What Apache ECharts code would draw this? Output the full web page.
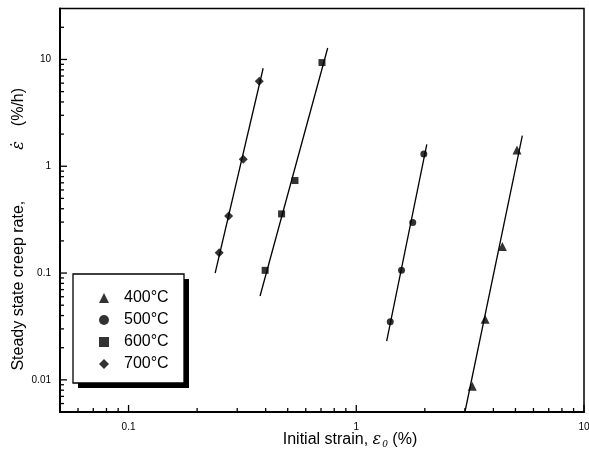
<!DOCTYPE html>
<html>
<head>
<meta charset="utf-8">
<script src="https://cdn.jsdelivr.net/npm/echarts@6/dist/echarts.min.js"></script>
<style>
  html, body { margin: 0; padding: 0; background: #fff; }
  #chart { width: 589px; height: 457px; }
</style>
</head>
<body>
<div id="chart"></div>
<script>
// Steady state creep rate against initial strain, one set per test temperature
const temps = ['400°C', '500°C', '600°C', '700°C'];
const symbols = ['triangle', 'circle', 'rect', 'diamond'];

// measured points: initial strain (%) and creep rate (%/h)
const strain400 = [3.23, 3.68, 4.38, 5.08];
const rate400   = [0.0087, 0.037, 0.177, 1.42];
const strain500 = [1.41, 1.58, 1.77, 1.98];
const rate500   = [0.035, 0.106, 0.297, 1.30];
const strain600 = [0.398, 0.470, 0.538, 0.707];
const rate600   = [0.106, 0.358, 0.735, 9.35];
const strain700 = [0.250, 0.275, 0.319, 0.375];
const rate700   = [0.155, 0.343, 1.16, 6.25];

// fitted power-law lines, [start, end] as [strain, rate]
const fit400 = [[3.00, 0.005], [5.36, 1.94]];
const fit500 = [[1.36, 0.023], [2.04, 1.60]];
const fit600 = [[0.378, 0.061], [0.749, 12.8]];
const fit700 = [[0.240, 0.100], [0.390, 8.27]];

// axis ranges and log tick positions
const xMin = 0.05, xMax = 10;
const yMin = 0.005, yMax = 30;
const xMajorTicks = [0.1, 1, 10];
const xMinorTicks = [0.06, 0.07, 0.08, 0.09, 0.2, 0.3, 0.4, 0.5, 0.6, 0.7, 0.8, 0.9,
                     2, 3, 4, 5, 6, 7, 8, 9];
const yMajorTicks = [0.01, 0.1, 1, 10];
const yMinorTicks = [0.006, 0.007, 0.008, 0.009, 0.02, 0.03, 0.04, 0.05, 0.06, 0.07, 0.08, 0.09,
                     0.2, 0.3, 0.4, 0.5, 0.6, 0.7, 0.8, 0.9, 2, 3, 4, 5, 6, 7, 8, 9, 20];

const FONT = 'Liberation Sans, Arial, Helvetica, sans-serif';
const SERIF = 'DejaVu Serif, Liberation Serif, serif';

const pointSets = [
  [strain400, rate400, 9],
  [strain500, rate500, 7],
  [strain600, rate600, 7],
  [strain700, rate700, 9]
];
const fits = [fit400, fit500, fit600, fit700];

function decadeLabel(v) {
  const l = Math.log10(v);
  return Math.abs(l - Math.round(l)) < 1e-6 ? String(+v.toPrecision(3)) : '';
}

const series = [];
temps.forEach((t, i) => {
  const [xs, ys, size] = pointSets[i];
  series.push({
    name: t,
    type: 'scatter',
    symbol: symbols[i],
    symbolSize: size,
    itemStyle: { color: '#000' },
    z: 4,
    data: xs.map((x, k) => [x, ys[k]])
  });
});
fits.forEach(f => {
  series.push({
    type: 'line',
    showSymbol: false,
    symbol: 'none',
    silent: true,
    lineStyle: { color: '#000', width: 1.3 },
    z: 3,
    data: f
  });
});

const chart = echarts.init(document.getElementById('chart'), null, { renderer: 'canvas' });
chart.setOption({
  animation: false,
  backgroundColor: '#fff',
  grid: {
    left: 60, right: 5, top: 8.5, bottom: 45,
    show: true, borderColor: '#000', borderWidth: 1.5,
    containLabel: false, outerBoundsMode: 'none'
  },
  legend: {
    data: temps,
    orient: 'vertical',
    left: 99, top: 290,
    padding: 0,
    itemWidth: 10, itemHeight: 10, itemGap: 6,
    textStyle: { fontSize: 16, color: '#000', fontFamily: FONT, lineHeight: 16, padding: [0, 0, 0, 10] }
  },
  xAxis: {
    type: 'log', logBase: 10, min: xMin, max: xMax,
    axisLine: { lineStyle: { color: '#000', width: 2 } },
    axisTick: { show: false },
    splitLine: { show: false },
    minorTick: { show: false },
    axisLabel: { color: '#000', fontSize: 10, fontFamily: FONT, margin: 10, formatter: decadeLabel },
    name: '{a|Initial strain, }{e|ε}{s|0}{a| (%)}',
    nameLocation: 'middle',
    nameGap: 18,
    nameMoveOverlap: false,
    nameTextStyle: {
      padding: [0, 0, 0, 56],
      rich: {
        a: { fontSize: 16, fontFamily: FONT, color: '#000', lineHeight: 20 },
        e: { fontSize: 16, fontFamily: SERIF, fontStyle: 'italic', color: '#000', lineHeight: 20 },
        s: { fontSize: 9, fontFamily: SERIF, fontStyle: 'italic', color: '#000', lineHeight: 10, padding: [10, 0, 0, 1] }
      }
    }
  },
  yAxis: {
    type: 'log', logBase: 10, min: yMin, max: yMax,
    axisLine: { lineStyle: { color: '#000', width: 2 } },
    axisTick: { show: false },
    splitLine: { show: false },
    minorTick: { show: false },
    axisLabel: { color: '#000', fontSize: 10, fontFamily: FONT, margin: 9, formatter: decadeLabel },
    name: '{a|Steady state creep rate,}{e|ε̇}{a|(%/h)}',
    nameLocation: 'middle',
    nameRotate: 90,
    nameGap: 33,
    nameMoveOverlap: false,
    nameTextStyle: {
      padding: [0, 38, 0, 0],
      rich: {
        a: { fontSize: 16, fontFamily: FONT, color: '#000' },
        e: { fontSize: 16, fontFamily: SERIF, fontStyle: 'italic', color: '#000', padding: [0, 15, 0, 51] }
      }
    }
  },
  series
});

// inward log tick marks and the legend frame, placed through the axis scales
const toPx = p => chart.convertToPixel({ gridIndex: 0 }, p);
const tickStyle = { stroke: '#000', lineWidth: 1.3 };
const graphics = [];
xMajorTicks.concat(xMinorTicks).forEach(v => {
  const len = xMajorTicks.includes(v) ? 7 : 4;
  const p = toPx([v, yMin]);
  graphics.push({ type: 'line', z: 5, silent: true,
    shape: { x1: p[0], y1: p[1], x2: p[0], y2: p[1] - len }, style: tickStyle });
});
yMajorTicks.concat(yMinorTicks).forEach(v => {
  const len = yMajorTicks.includes(v) ? 7 : 4;
  const p = toPx([xMin, v]);
  graphics.push({ type: 'line', z: 5, silent: true,
    shape: { x1: p[0], y1: p[1], x2: p[0] + len, y2: p[1] }, style: tickStyle });
});
// legend frame with a solid drop shadow
graphics.push({ type: 'rect', z: 3, silent: true,
  shape: { x: 78, y: 279, width: 111, height: 109 }, style: { fill: '#000' } });
graphics.push({ type: 'rect', z: 3, silent: true,
  shape: { x: 73, y: 274, width: 111, height: 109 },
  style: { fill: '#fff', stroke: '#000', lineWidth: 1.3 } });
chart.setOption({ graphic: graphics });
</script>
</body>
</html>
